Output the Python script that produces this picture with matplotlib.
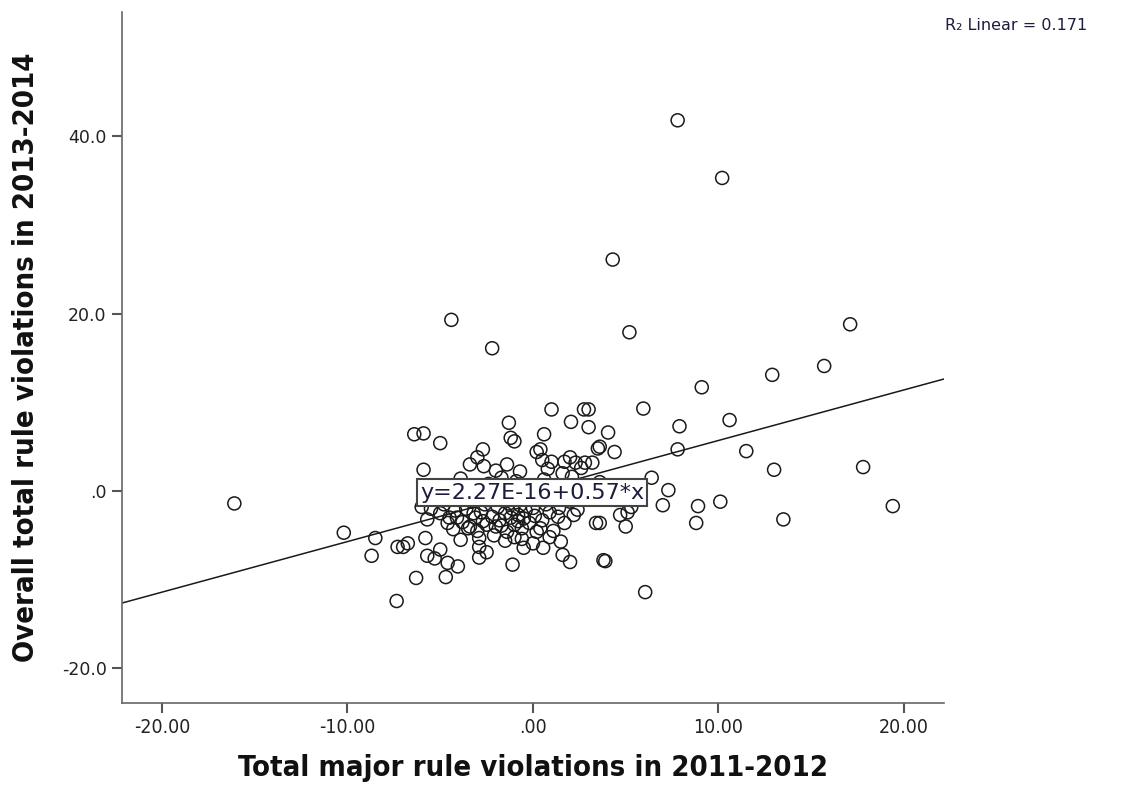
import matplotlib
matplotlib.use("Agg")
import numpy as np
from matplotlib import pyplot as plt
from matplotlib import font_manager as fm

# scattered points (x = 2011-2012 major, y = 2013-2014 overall)
x_outer = [-16.1, -10.2, -8.5, -8.7, -7.3, -7.0, -6.75, -7.35, -5.8, -5.7, -5.0, -5.3,
           -4.6, -4.05, -4.7, -6.3, -3.9, -3.5, -2.9, -2.9, -2.5, -1.1, -4.5, -4.1,
           7.8, 10.2, 4.3, -4.4, 5.2, -2.2, 17.1, 15.7, 12.9, 9.1, 2.75, 3.0, 1.0, 5.95,
           10.6, 7.9, 4.05, 3.6, 4.4, 7.8, 11.5, 13.0, 17.8, 6.4, 7.3, 7.0, 8.9, 10.1,
           19.4, 8.8, 13.5, 5.0, 4.7, 5.1, 3.6, 3.9, 6.05,
           -6.4, -5.9, -5.0, -1.3, -1.2, -1.0, -2.7, -3.0, -3.4, -2.65, -5.9, -1.4,
           2.05, 3.0, 0.6, 3.5, 0.2, 0.4, 0.5, 1.0, 2.0, 1.7, 2.8, 3.2, 2.3,
           3.4, 2.2, 1.35, 1.5, 1.6, 2.0, 3.8, 0.55, 0.0, -0.5, 0.9, 0.4, -1.0, 1.1]
y_outer = [-1.4, -4.7, -5.3, -7.3, -6.3, -6.3, -5.9, -12.4, -5.3, -7.3, -6.6, -7.6,
           -8.1, -8.5, -9.7, -9.8, -5.5, -4.2, -6.3, -7.5, -6.9, -8.3, -3.0, -3.0,
           41.8, 35.3, 26.1, 19.3, 17.9, 16.1, 18.8, 14.1, 13.1, 11.7, 9.2, 9.2, 9.2, 9.3,
           8.0, 7.3, 6.6, 5.0, 4.4, 4.7, 4.5, 2.4, 2.7, 1.5, 0.1, -1.6, -1.7, -1.2,
           -1.7, -3.6, -3.2, -4.0, -2.7, -2.4, -3.6, -7.9, -11.4,
           6.4, 6.5, 5.4, 7.7, 6.0, 5.6, 4.7, 3.8, 3.0, 2.8, 2.4, 3.0,
           7.8, 7.2, 6.4, 4.8, 4.4, 4.7, 3.5, 3.3, 3.8, 3.3, 3.2, 3.2, 3.2,
           -3.6, -2.7, -2.9, -5.7, -7.2, -8.0, -7.8, -6.4, -5.9, -6.4, -5.2, -4.2, -5.2, -4.5]

# dense core around the origin
x_core = [-5.5, -5.0, -4.8, -4.2, -4.0, -3.8, -3.6, -3.3, -3.1, -3.0, -2.8, -2.6, -2.5,
          -2.3, -2.2, -2.0, -1.9, -1.8, -1.6, -1.5, -1.4, -1.3, -1.2, -1.1, -1.0, -0.9,
          -0.8, -0.7, -0.6, -0.5, -0.4, -0.3, -0.2, 0.0, 0.1, 0.3, 0.5, 0.7, 0.9, 1.2,
          1.4, 1.7, 2.0, 2.4, 2.8, -2.4, -1.7, -0.9, -0.2, 0.6, 1.3, 2.1, -3.5, -4.5,
          -5.2, -3.9, -2.9, -2.1, -1.5, -0.6, -3.4, -4.3, -2.7, -1.7, -0.8, 0.2, -3.2,
          -2.4, -1.4, 0.4, 1.8, -6.0, -5.7, -4.6, -0.7, 0.8, -2.0, 1.6, 2.6, 3.6, 4.5,
          5.3, 4.2]
y_core = [-2.0, -2.5, -1.5, -2.2, -1.0, -3.5, -2.0, -1.2, -3.0, -4.5, -2.4, -1.5, -3.8,
          -0.5, -2.9, -4.0, -1.8, -3.3, -0.8, -2.5, -4.6, -1.4, -3.0, -2.0, -3.8, -0.4,
          -2.7, -1.6, -4.2, -3.1, -2.2, -0.9, -3.6, -1.9, -2.8, -0.6, -3.3, -1.5, -2.4, -0.8,
          -1.9, -3.6, -1.2, -2.1, -0.4, 0.8, 1.5, 1.1, 0.6, 1.3, 0.5, 1.6, 0.5, 0.2,
          -0.5, 1.4, -5.3, -5.0, -5.6, -5.4, -4.0, -4.3, -3.4, -3.9, -3.4, -4.6, -2.5,
          -1.0, -0.2, -0.1, 0.2, -1.8, -3.2, -3.6, 2.2, 2.5, 2.3, 2.0, 2.6, 1.0, -1.0,
          -1.8, 0.5]

intercept = 2.27e-16
slope = 0.57
r2 = 0.171

x_ticks = [-20, -10, 0, 10, 20]
x_tick_labels = ["-20.00", "-10.00", ".00", "10.00", "20.00"]
y_ticks = [-20, 0, 20, 40]
y_tick_labels = ["-20.0", ".0", "20.0", "40.0"]

# narrow bold font for the axis titles if a condensed face is around
label_font = fm.FontProperties(family="DejaVu Sans", weight="bold", stretch="condensed")
if "ondensed" in fm.findfont(label_font):
    label_font.set_size(21)
else:
    label_font = fm.FontProperties(family="DejaVu Sans", weight="bold", size=19)

fig = plt.figure(figsize=(11.25, 7.86), dpi=100)
ax = fig.add_axes([0.1084, 0.1056, 0.7307, 0.879])

xs = x_outer + x_core
ys = y_outer + y_core
ax.scatter(xs, ys, s=88, facecolors="none", edgecolors="#1a1a1a", linewidths=1.1, zorder=3)

xlim = (-22.16, 22.16)
ylim = (-23.9, 54.0)
line_x = np.array(xlim)
ax.plot(line_x, intercept + slope * line_x, color="#1a1a1a", linewidth=1.1, zorder=2)
ax.set_xlim(xlim)
ax.set_ylim(ylim)

for side in ["top", "right"]:
    ax.spines[side].set_visible(False)
for side in ["left", "bottom"]:
    ax.spines[side].set_color("#666666")
    ax.spines[side].set_linewidth(1.2)

ax.set_xticks(x_ticks)
ax.set_xticklabels(x_tick_labels, family="DejaVu Sans", fontsize=14, fontstretch="condensed")
ax.set_yticks(y_ticks)
ax.set_yticklabels(y_tick_labels, family="DejaVu Sans", fontsize=12.5)
ax.tick_params(axis="both", direction="out", length=7, width=1.5, color="#555555",
               labelcolor="#222222", pad=4)

ax.set_xlabel("Total major rule violations in 2011-2012", fontproperties=label_font,
              labelpad=12, color="#111111")
ax.set_ylabel("Overall total rule violations in 2013-2014", fontproperties=label_font,
              labelpad=16, color="#111111")

ax.text(-0.05, -0.2, "y=2.27E-16+0.57*x", ha="center", va="center", fontsize=16,
        family="DejaVu Sans", color="#1c1c3c", zorder=5,
        bbox=dict(boxstyle="square,pad=0.15", facecolor="white", edgecolor="#444444",
                  linewidth=1.5))

fig.text(0.84, 0.962, f"R\u2082 Linear = {r2}", fontsize=11.5, family="DejaVu Sans",
         color="#1c1c3c")

fig.savefig("out.png", dpi=100)
